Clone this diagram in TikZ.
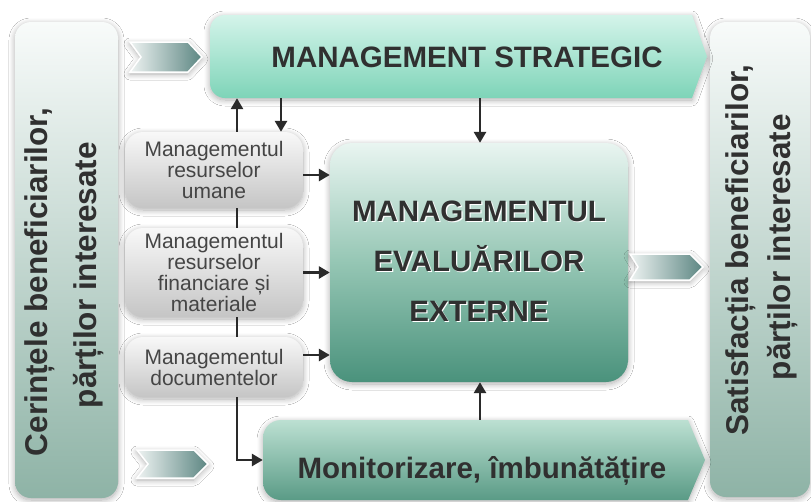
\documentclass[tikz,border=0pt]{standalone}
\usepackage{fontspec}
\setmainfont{Liberation Sans}
\usetikzlibrary{arrows.meta,shadows.blur}
\definecolor{colTop}{HTML}{F8FBFA}
\definecolor{colBot}{HTML}{8EB3A6}
\definecolor{msTop}{HTML}{D4F4EA}
\definecolor{msBot}{HTML}{7ED4B8}
\definecolor{cTop}{HTML}{E9F5F1}
\definecolor{cMid}{HTML}{95C6B4}
\definecolor{cBot}{HTML}{4A927C}
\definecolor{monTop}{HTML}{BCE0D2}
\definecolor{monBot}{HTML}{5A9B86}
\definecolor{gTop}{HTML}{F8F8F8}
\definecolor{gBot}{HTML}{C5C5C5}
\definecolor{chL}{HTML}{EEF3F2}
\definecolor{chR}{HTML}{5C8682}
\definecolor{txt}{HTML}{303030}
\definecolor{lc}{HTML}{2A2A2A}
\begin{document}
\begin{tikzpicture}[x=1pt,y=-1pt,
  shd/.style={blur shadow={shadow xshift=0pt,shadow yshift=-2pt,shadow blur radius=6pt,shadow opacity=32,shadow blur steps=10}},
  frame/.style={inner sep=0pt,draw=none},
  colbox/.style={shd,rounded corners=16pt,top color=colTop,bottom color=colBot,inner sep=0pt},
  coltext/.style={rotate=90,anchor=base,inner sep=0pt,text=txt,font=\fontsize{31.5}{31.5}\selectfont\bfseries},
  bigtext/.style={inner sep=0pt,text=txt,font=\fontsize{29.5}{50}\selectfont\bfseries,align=center},
  gbox/.style={shd,rounded corners=18pt,top color=gTop,bottom color=gBot,minimum width=178pt,inner sep=0pt,align=center,text=txt!90,font=\fontsize{21}{21}\selectfont},
  cboxst/.style={shd,rounded corners=22pt,top color=cTop,bottom color=cBot,middle color=cMid,minimum width=298pt,minimum height=239pt,inner sep=0pt},
  chev/.style={shd,left color=chL,right color=chR,draw=white,line width=1.5pt},
  arr/.style={draw=lc,line width=2.7pt,-{Triangle[width=12pt,length=11pt]}},
  ln/.style={draw=lc,line width=2.7pt}]
\useasboundingbox[fill=white] (0,0) rectangle (811,501);

% columns
\node[colbox,minimum width=103pt,minimum height=476pt] (lcol) at (66.5,260) {};
\node[colbox,minimum width=100pt,minimum height=475pt] (rcol) at (760,259.5) {};
\node[coltext] (l1) at (47,282) {Cerințele beneficiarilor,};
\node[coltext] (l2) at (96,275) {părților interesate};
\node[coltext] (r1) at (748,250) {Satisfacția beneficiarilor,};
\node[coltext] (r2) at (790,247) {părților interesate};

% management strategic arrow
\path[shd,top color=msTop,bottom color=msBot] (692,15) -- (707,56.5) -- (692,98) -- (225,98) arc[start angle=90,end angle=180,radius=15] -- (210,30) arc[start angle=180,end angle=270,radius=15] -- cycle;
\node[frame,minimum width=497pt,minimum height=83pt] (ms) at (458.5,56.5) {};
\node[bigtext] (mst) at (467,57) {MANAGEMENT STRATEGIC};

% monitorizare arrow
\path[shd,top color=monTop,bottom color=monBot] (688,420) -- (705,460) -- (688,500) -- (281,500) arc[start angle=90,end angle=180,radius=18] -- (263,438) arc[start angle=180,end angle=270,radius=18] -- cycle;
\node[frame,minimum width=442pt,minimum height=80pt] (mon) at (484,460) {};
\node[bigtext] (mont) at (482,471) {Monitorizare, îmbunătățire};

% center box
\node[cboxst] (cbox) at (479,262.5) {};
\node[bigtext,text=white] at (480.2,262.2) {MANAGEMENTUL\\EVALUĂRILOR\\EXTERNE};
\node[bigtext] (ct) at (479,261) {MANAGEMENTUL\\EVALUĂRILOR\\EXTERNE};

% gray boxes
\node[gbox,minimum height=76pt] (b1) at (214,170) {Managementul\\resurselor\\umane};
\node[gbox,minimum height=89pt] (b2) at (214,272.5) {Managementul\\resurselor\\financiare și\\materiale};
\node[gbox,minimum height=60pt] (b3) at (214,367) {Managementul\\documentelor};

% chevrons
\path[chev] (130,42) -- (188,42) -- (202,57) -- (188,72) -- (130,72) -- (141,57) -- cycle;
\path[chev] (137,450) -- (194,450) -- (208,464) -- (194,478) -- (137,478) -- (148,464) -- cycle;
\path[chev] (630,254) -- (690,254) -- (703,267) -- (690,280) -- (630,280) -- (638,267) -- cycle;

% connectors
\coordinate (xa) at (237,0);
\coordinate (xb) at (281,0);
\coordinate (xc) at (480,0);
\draw[arr] (b1.north -| xa) -- (ms.south -| xa);
\draw[arr] (ms.south -| xb) -- (b1.north -| xb);
\draw[arr] (ms.south -| xc) -- (cbox.north -| xc);
\draw[arr] (mon.north -| xc) -- (cbox.south -| xc);
\draw[ln] (b1.south -| xa) -- (b2.north -| xa);
\draw[ln] (b2.south -| xa) -- (b3.north -| xa);
\draw[arr] (b3.south -| xa) |- (mon.west);
\draw[arr] ([yshift=-5pt]b1.east) -- ([yshift=-5pt]b1.east -| cbox.west);
\draw[arr] (b2.east) -- (b2.east -| cbox.west);
\draw[arr] ([yshift=12pt]b3.east) -- ([yshift=12pt]b3.east -| cbox.west);
\end{tikzpicture}
\end{document}
